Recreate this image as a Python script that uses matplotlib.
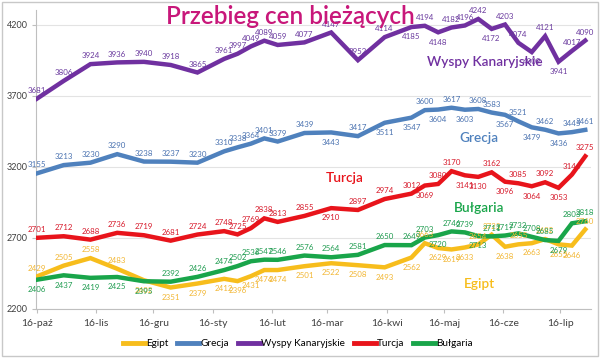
#!/usr/bin/env python3
"""Przebieg cen biezacych - recreated line chart."""
import matplotlib
matplotlib.use("Agg")
import matplotlib.pyplot as plt
import pandas as pd
from matplotlib.patches import Rectangle

plt.rcParams["font.family"] = ["Lato", "DejaVu Sans"]

DATES = pd.to_datetime([
    "2015-10-16", "2015-10-30", "2015-11-13", "2015-11-27", "2015-12-11",
    "2015-12-25", "2016-01-08", "2016-01-22", "2016-01-29", "2016-02-05",
    "2016-02-12", "2016-02-19", "2016-03-04", "2016-03-18", "2016-04-01",
    "2016-04-15", "2016-04-29", "2016-05-06", "2016-05-13", "2016-05-20",
    "2016-05-27", "2016-06-03", "2016-06-10", "2016-06-17", "2016-06-24",
    "2016-07-01", "2016-07-08", "2016-07-15", "2016-07-22", "2016-07-29",
])

egipt = [2429, 2505, 2558, 2483, 2402, 2351, 2379, 2412, 2396, 2431,
         2474, 2474, 2501, 2522, 2508, 2493, 2562, 2663, 2629, 2619,
         2633, 2654, 2723, 2638, 2655, 2663, 2692, 2655, 2646, 2760]
grecja = [3155, 3213, 3230, 3290, 3238, 3237, 3230, 3310, 3338, 3364,
          3401, 3379, 3439, 3443, 3417, 3511, 3547, 3600, 3604, 3617,
          3603, 3608, 3583, 3567, 3521, 3479, 3462, 3436, 3445, 3461]
kanary = [3681, 3806, 3924, 3936, 3940, 3918, 3865, 3961, 3997, 4049,
          4089, 4059, 4077, 4147, 3952, 4114, 4185, 4194, 4148, 4182,
          4196, 4242, 4172, 4203, 4074, 4009, 4121, 3941, 4017, 4090]
turcja = [2701, 2712, 2688, 2736, 2719, 2681, 2724, 2748, 2725, 2769,
          2838, 2813, 2855, 2910, 2897, 2974, 3012, 3069, 3080, 3170,
          3141, 3130, 3162, 3096, 3085, 3064, 3092, 3053, 3146, 3275]
bulgaria = [2406, 2437, 2419, 2425, 2395, 2392, 2426, 2474, 2502, 2536,
            2547, 2546, 2576, 2564, 2581, 2650, 2649, 2703, 2720, 2746,
            2739, 2713, 2711, 2717, 2732, 2708, 2685, 2679, 2803, 2818]

SERIES = ["Egipt", "Grecja", "Wyspy Kanaryjskie", "Turcja", "Bułgaria"]
TICK_LABELS = ["16-paź", "16-lis", "16-gru", "16-sty", "16-lut",
               "16-mar", "16-kwi", "16-maj", "16-cze", "16-lip"]
Y_TICKS = [2200, 2700, 3200, 3700, 4200]

COLORS = {
    "Egipt": "#f7bd1c",
    "Grecja": "#4f81bd",
    "Wyspy Kanaryjskie": "#7030a0",
    "Turcja": "#e8141b",
    "Bułgaria": "#19a54a",
}
LABEL_COLORS = {
    "Egipt": "#f2b632",
    "Grecja": "#4a72b0",
    "Wyspy Kanaryjskie": "#6a3a9e",
    "Turcja": "#d7192a",
    "Bułgaria": "#1f9c50",
}
# indices whose value label sits under the line
BELOW = {
    "Egipt": {4, 5, 6, 7, 8, 9, 10, 11, 12, 13, 14, 15, 16, 18, 19, 20, 23, 25, 27, 28},
    "Grecja": {13, 15, 16, 18, 20, 23, 25, 27},
    "Wyspy Kanaryjskie": {16, 18, 22, 25, 27},
    "Turcja": {13, 17, 20, 21, 23, 25, 27},
    "Bułgaria": {0, 1, 2, 3, 4, 18, 21, 27},
}

values = {
    "Egipt": egipt,
    "Grecja": grecja,
    "Wyspy Kanaryjskie": kanary,
    "Turcja": turcja,
    "Bułgaria": bulgaria,
}

fig = plt.figure(figsize=(6.0, 3.58), dpi=100)
ax = fig.add_axes([0.06, 0.137, 0.925, 0.835])

for name in SERIES:
    ys = values[name]
    ax.plot(DATES, ys, color=COLORS[name], lw=3.2, label=name,
            solid_joinstyle="miter", zorder=3)
    for i, (d, v) in enumerate(zip(DATES, ys)):
        below = i in BELOW[name]
        ax.annotate(str(v), (d, v), xytext=(0, -4.5 if below else 3.5),
                    textcoords="offset points", ha="center",
                    va="top" if below else "bottom", fontsize=5.7,
                    color=LABEL_COLORS[name], zorder=4)

ax.set_ylim(2200, 4305)
ax.set_xlim(pd.Timestamp("2015-10-15 12:00"), pd.Timestamp("2016-08-01"))
ax.set_yticks(Y_TICKS)
ax.tick_params(axis="y", labelsize=6.5, length=3, color="#bfbfbf",
               labelcolor="#404040", pad=3)
ticks = pd.date_range("2015-10-01", periods=10, freq="MS") + pd.Timedelta(days=15)
ax.set_xticks(ticks)
ax.set_xticklabels(TICK_LABELS)
ax.tick_params(axis="x", labelsize=7.5, length=3, color="#bfbfbf",
               labelcolor="#404040", pad=4)
ax.grid(axis="y", color="#e3e3e3", lw=0.8)
ax.set_axisbelow(True)
for side in ("top", "right"):
    ax.spines[side].set_visible(False)
for side in ("left", "bottom"):
    ax.spines[side].set_color("#bfbfbf")

# series names placed inside the plot
NAME_POS = {
    "Wyspy Kanaryjskie": (485, 62),
    "Grecja": (479, 138),
    "Turcja": (345, 178),
    "Bułgaria": (479, 208),
    "Egipt": (479, 284),
}
for name, (px, py) in NAME_POS.items():
    fig.text(px / 600, 1 - py / 358, name, ha="center", va="center",
             fontsize=9.8, color=COLORS[name], fontweight="semibold")

fig.text(290 / 600, 1 - 16 / 358, "Przebieg cen bieżących", ha="center",
         va="center", fontsize=17.5, color="#c8177a", fontweight="semibold")

leg = ax.legend(loc="center", ncol=5, frameon=False, fontsize=7.2,
                handlelength=2.2, handletextpad=0.1, columnspacing=0.9)
leg.set_bbox_to_anchor((298 / 600, 1 - 344 / 358), transform=fig.transFigure)
for line in leg.get_lines():
    line.set_linewidth(3.5)

fig.patches.append(Rectangle((0.004, 0.006), 0.992, 0.988, transform=fig.transFigure,
                             fill=False, edgecolor="#c8c8c8", lw=1))

fig.savefig("out.png", dpi=100)
